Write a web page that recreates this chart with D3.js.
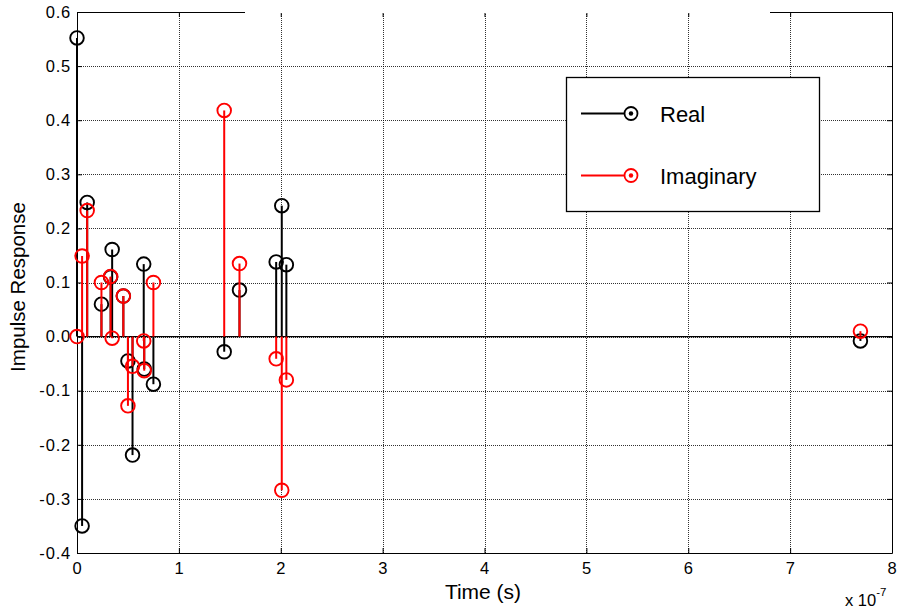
<!DOCTYPE html>
<html>
<head>
<meta charset="utf-8">
<script src="https://cdn.jsdelivr.net/npm/d3@7"></script>
<style>
  html, body { margin: 0; padding: 0; background: #fff; }
  svg { display: block; font-family: "Liberation Sans", Arial, sans-serif; }
</style>
</head>
<body>
<svg id="chart" width="900" height="612"></svg>
<script>
// Time samples in units of 1e-7 s
const times = [0, 0.05, 0.1, 0.24, 0.33, 0.345, 0.455, 0.5, 0.545, 0.655, 0.66, 0.75, 1.445, 1.595, 1.955, 2.01, 2.055, 7.69];
const realVals = [0.552, -0.350, 0.248, 0.060, 0.110, 0.161, 0.075, -0.045, -0.219, 0.134, -0.060, -0.088, -0.028, 0.086, 0.138, 0.242, 0.133, -0.008];
const imagVals = [0.000, 0.149, 0.233, 0.100, 0.111, -0.003, 0.075, -0.128, -0.055, -0.008, -0.063, 0.100, 0.418, 0.135, -0.041, -0.284, -0.080, 0.010];
const xTicks = [0, 1, 2, 3, 4, 5, 6, 7, 8];
const yTicks = [-0.4, -0.3, -0.2, -0.1, 0, 0.1, 0.2, 0.3, 0.4, 0.5, 0.6];
const seriesNames = ["Real", "Imaginary"];
const seriesColors = ["#000000", "#ff0000"];

const svg = d3.select("#chart");
const L = 77, R = 892, T = 12, B = 553;
const x = d3.scaleLinear().domain([0, 8]).range([L, R]);
const y = d3.scaleLinear().domain([-0.4, 0.6]).range([B, T]);

// grid
const grid = svg.append("g");
grid.selectAll(".vg").data(xTicks.slice(1, -1)).enter().append("line")
  .attr("x1", d => Math.round(x(d)) + 0.5).attr("x2", d => Math.round(x(d)) + 0.5)
  .attr("y1", T).attr("y2", B)
  .attr("stroke", "#000").attr("stroke-width", 1).attr("stroke-dasharray", "1,1").attr("opacity", 0.8);
grid.selectAll(".hg").data(yTicks.slice(1, -1)).enter().append("line")
  .attr("y1", d => Math.round(y(d)) + 0.5).attr("y2", d => Math.round(y(d)) + 0.5)
  .attr("x1", L).attr("x2", R)
  .attr("stroke", "#000").attr("stroke-width", 1).attr("stroke-dasharray", "1,1").attr("opacity", 0.8);

// axes (box with inward ticks)
const axB = d3.axisBottom(x).tickValues(xTicks).tickSizeInner(-5).tickSizeOuter(0).tickPadding(9).tickFormat(d3.format("d"));
const axT = d3.axisTop(x).tickValues(xTicks).tickSizeInner(-5).tickSizeOuter(0).tickFormat("");
const axLft = d3.axisLeft(y).tickValues(yTicks).tickSizeInner(-5).tickSizeOuter(0).tickPadding(6).tickFormat(d => d3.format(".1f")(d).replace("−", "-"));
const axRt = d3.axisRight(y).tickValues(yTicks).tickSizeInner(-5).tickSizeOuter(0).tickFormat("");

function styleAxis(g) {
  g.selectAll("path").attr("stroke", "#000").attr("stroke-width", 1);
  g.selectAll("line").attr("stroke", "#000");
  g.selectAll("text").attr("fill", "#000").attr("font-size", "16.5px").attr("letter-spacing", "0.8px")
    .attr("font-family", "'Liberation Sans', Arial, sans-serif");
}
svg.append("g").attr("transform", `translate(0,${B})`).call(axB).call(styleAxis);
svg.append("g").attr("transform", `translate(0,${T})`).call(axT).call(styleAxis);
svg.append("g").attr("transform", `translate(${L},0)`).call(axLft).call(styleAxis);
svg.append("g").attr("transform", `translate(${R},0)`).call(axRt).call(styleAxis);

// gap in top border as in reference
svg.append("rect").attr("x", 245).attr("y", 10.5).attr("width", 525).attr("height", 2.5).attr("fill", "#fff");

// baseline
svg.append("line").attr("x1", L).attr("x2", R).attr("y1", y(0)).attr("y2", y(0))
  .attr("stroke", "#000").attr("stroke-width", 1.2);

// stems
const series = [realVals, imagVals];
series.forEach((vals, si) => {
  const g = svg.append("g");
  const data = times.map((t, i) => ({ t, v: vals[i] }));
  g.selectAll("line").data(data).enter().append("line")
    .attr("x1", d => x(d.t)).attr("x2", d => x(d.t))
    .attr("y1", y(0)).attr("y2", d => y(d.v))
    .attr("stroke", seriesColors[si]).attr("stroke-width", 2);
  g.selectAll("circle").data(data).enter().append("circle")
    .attr("cx", d => x(d.t)).attr("cy", d => y(d.v)).attr("r", 6.8)
    .attr("fill", "none").attr("stroke", seriesColors[si]).attr("stroke-width", 1.9);
});

// legend
const lg = svg.append("g");
lg.append("rect").attr("x", 566.5).attr("y", 77.5).attr("width", 253).attr("height", 134)
  .attr("fill", "#fff").attr("stroke", "#000").attr("stroke-width", 1.3);
const legY = [113.5, 175.5];
seriesNames.forEach((name, i) => {
  lg.append("line").attr("x1", 581).attr("x2", 631).attr("y1", legY[i]).attr("y2", legY[i])
    .attr("stroke", seriesColors[i]).attr("stroke-width", 2);
  lg.append("circle").attr("cx", 631).attr("cy", legY[i]).attr("r", 6.5)
    .attr("fill", "#fff").attr("stroke", seriesColors[i]).attr("stroke-width", 1.8);
  lg.append("circle").attr("cx", 631).attr("cy", legY[i]).attr("r", 2.2)
    .attr("fill", seriesColors[i]);
  lg.append("text").attr("x", 660).attr("y", legY[i] + 8).attr("font-size", "22px")
    .attr("fill", "#000").text(name);
});

// axis labels
svg.append("text").attr("x", 483).attr("y", 599).attr("text-anchor", "middle")
  .attr("font-size", "21px").attr("fill", "#000").text("Time (s)");
svg.append("text").attr("transform", "translate(25,287) rotate(-90)").attr("text-anchor", "middle")
  .attr("font-size", "20.5px").attr("fill", "#000").text("Impulse Response");
const exp = svg.append("text").attr("x", 845).attr("y", 606).attr("font-size", "16.5px").attr("fill", "#000");
exp.append("tspan").text("x 10");
exp.append("tspan").attr("dy", -10).attr("font-size", "11.5px").text("-7");
</script>
</body>
</html>
